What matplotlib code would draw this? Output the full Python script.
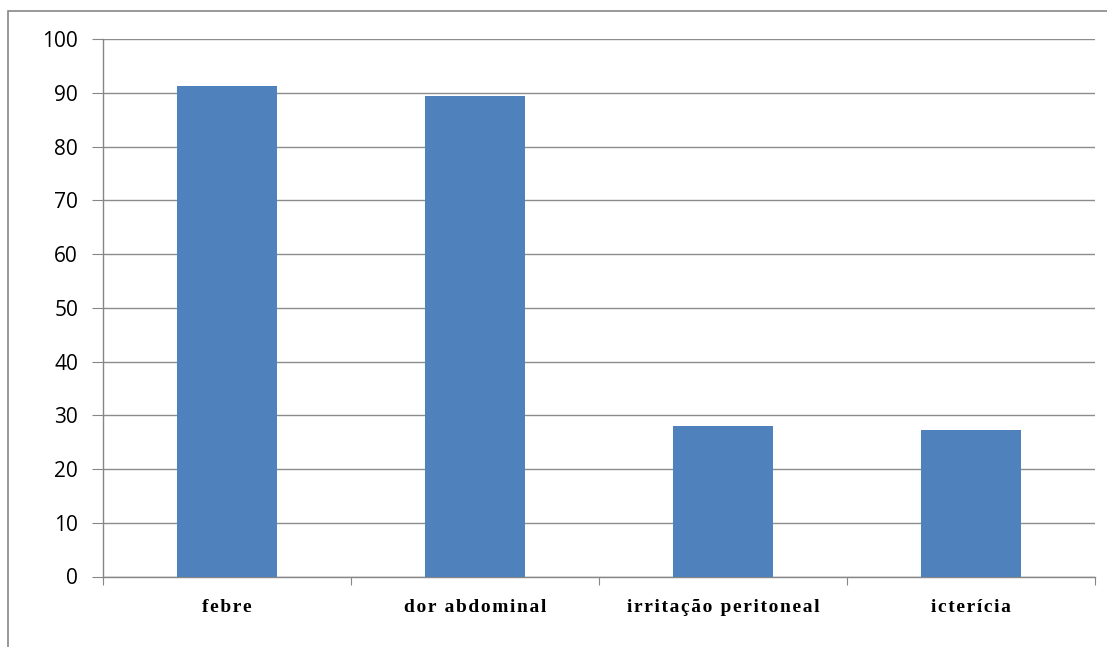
import matplotlib.pyplot as plt
from matplotlib.patches import Rectangle
import numpy as np

categories = ["febre", "dor abdominal", "irritação peritoneal", "icterícia"]
values = [91.3, 89.4, 28.0, 27.2]

W, H = 1107, 647
fig = plt.figure(figsize=(W / 100, H / 100), dpi=100)

# chart area border (runs off the right/bottom edge in the original)
fig.patches.append(Rectangle((8 / W, -0.1), 1.2, 1 - 11 / H + 0.1,
                             transform=fig.transFigure, fill=False,
                             edgecolor="#868686", linewidth=1.2))

ax = fig.add_axes([103 / W, 1 - 576.5 / H, (1095 - 103) / W, (576.5 - 39.3) / H])

x = np.arange(len(categories))
ax.bar(x, values, width=0.4, color="#4F81BD", zorder=3)

ax.set_xlim(-0.5, len(categories) - 0.5)
ax.set_ylim(0, 100)
ax.set_yticks(range(0, 101, 10))
ax.yaxis.grid(True, color="#8c8c8c", linewidth=1.0)
ax.set_axisbelow(True)

for s in ["top", "right"]:
    ax.spines[s].set_visible(False)
for s in ["left", "bottom"]:
    ax.spines[s].set_color("#868686")
    ax.spines[s].set_linewidth(1.0)


def spaced(txt):
    # the original labels are letter-spaced; hair spaces between characters
    return "\u200a".join(txt)


# category labels centred, tick marks on the boundaries
ax.set_xticks(np.arange(-0.5, len(categories), 1.0))
ax.set_xticklabels([])
ax.set_xticks(x, minor=True)
ax.set_xticklabels([spaced(c) for c in categories], minor=True,
                   fontfamily=["Liberation Serif", "DejaVu Serif"],
                   fontweight="bold", fontsize=14)
ax.tick_params(axis="x", which="minor", length=0, pad=16)
ax.tick_params(axis="x", which="major", length=6, color="#868686")
ax.tick_params(axis="y", length=8, color="#868686", pad=10)
for lab in ax.get_yticklabels():
    lab.set_fontfamily("Open Sans")
    lab.set_fontsize(15)

fig.savefig("out.png", dpi=100)
